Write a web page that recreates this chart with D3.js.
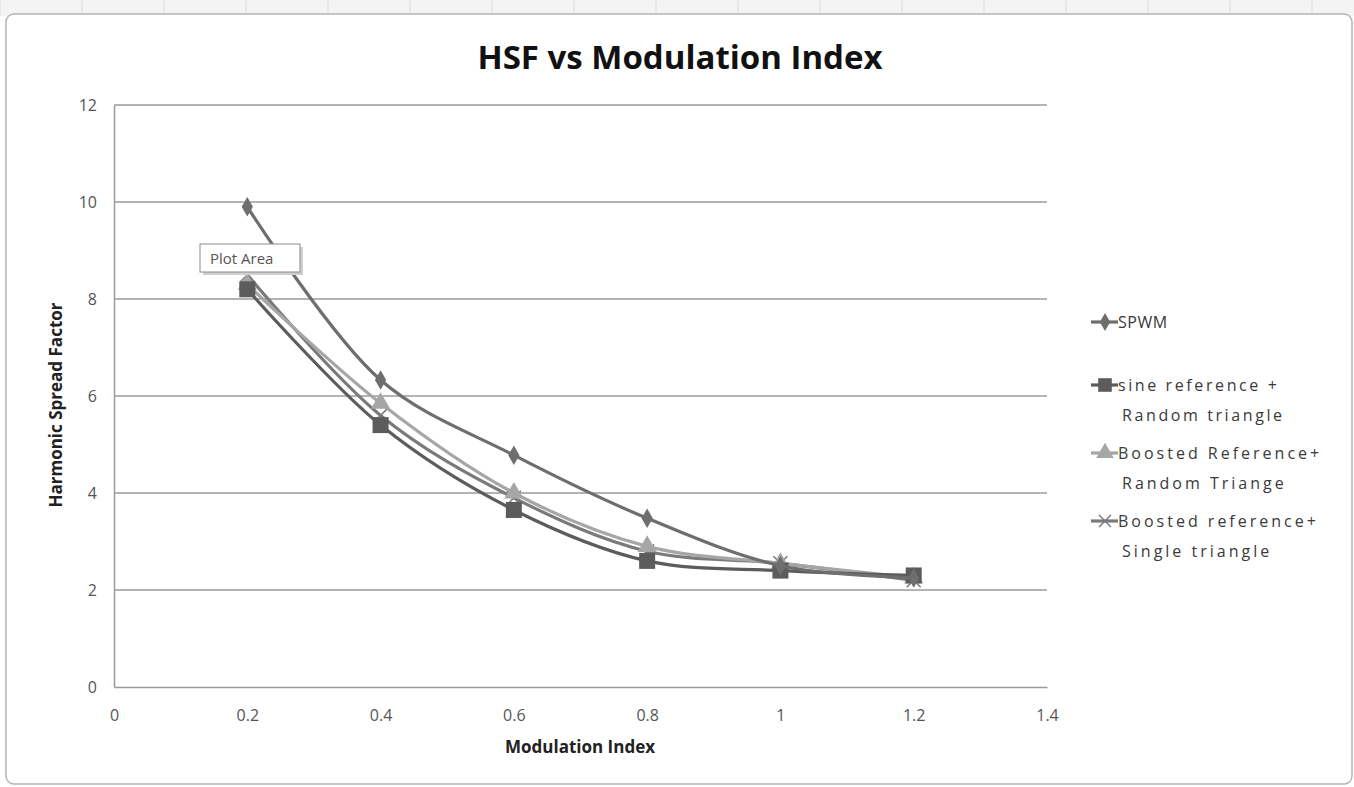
<!DOCTYPE html>
<html><head><meta charset="utf-8">
<script src="https://cdn.jsdelivr.net/npm/d3@7"></script>
<style>body{margin:0;background:#fff;} svg{display:block;}</style>
</head><body>
<svg id="c" width="1354" height="787"></svg>
<script>
const xValues = [0.2, 0.4, 0.6, 0.8, 1.0, 1.2];
const seriesNames = ["SPWM", "sine reference + Random triangle", "Boosted Reference+ Random Triange", "Boosted reference+ Single triangle"];
const spwm = [9.9, 6.33, 4.78, 3.48, 2.5, 2.25];
const sineRandom = [8.2, 5.4, 3.65, 2.6, 2.4, 2.3];
const boostedRandom = [8.3, 5.85, 4.0, 2.9, 2.55, 2.25];
const boostedSingle = [8.5, 5.6, 3.9, 2.8, 2.55, 2.2];
const xTicks = [0, 0.2, 0.4, 0.6, 0.8, 1, 1.2, 1.4];
const yTicks = [0, 2, 4, 6, 8, 10, 12];

const svg = d3.select("#c");
const W = 1354, H = 787;

svg.append("rect").attr("x",0).attr("y",0).attr("width",W).attr("height",H).attr("fill","#fff");
svg.append("rect").attr("x",0).attr("y",0).attr("width",W).attr("height",16).attr("fill","#f4f4f4");
d3.range(0, W, 82).forEach(x => svg.append("line").attr("x1",x).attr("x2",x).attr("y1",0).attr("y2",16).attr("stroke","#dcdcdc"));
svg.append("rect").attr("x",6).attr("y",14).attr("width",W-8).attr("height",H-17).attr("rx",8)
  .attr("fill","#fff").attr("stroke","#b4b4b4").attr("stroke-width",1.5);

const x = d3.scaleLinear().domain([0,1.4]).range([114,1047]);
const y = d3.scaleLinear().domain([0,12]).range([687,105]);

svg.append("g").selectAll("line").data(yTicks.filter(d=>d>0)).join("line")
  .attr("x1",x(0)).attr("x2",x(1.4)).attr("y1",d=>y(d)).attr("y2",d=>y(d))
  .attr("stroke","#9a9a9a").attr("stroke-width",1.5);

const yAxis = svg.append("g").attr("transform",`translate(${x(0)},0)`)
  .call(d3.axisLeft(y).tickValues(yTicks).tickSize(0).tickPadding(17).tickFormat(d3.format("d")));
yAxis.select(".domain").attr("stroke","#9a9a9a").attr("stroke-width",1.5);
yAxis.selectAll("text").attr("font-family","'Open Sans', sans-serif").attr("font-size",16).attr("fill","#555");

const xAxis = svg.append("g").attr("transform",`translate(0,${y(0)})`)
  .call(d3.axisBottom(x).tickValues(xTicks).tickSize(0).tickPadding(23).tickFormat(d=>d3.format("~g")(d)));
xAxis.select(".domain").attr("stroke","#9a9a9a").attr("stroke-width",1.5);
xAxis.selectAll("text").attr("font-family","'Open Sans', sans-serif").attr("font-size",16).attr("fill","#555");

svg.append("text").attr("x",680).attr("y",69).attr("text-anchor","middle")
  .attr("font-family","'Open Sans', sans-serif").attr("font-weight","bold").attr("font-size",33)
  .attr("fill","#111").text("HSF vs Modulation Index");
svg.append("text").attr("x",580).attr("y",753).attr("text-anchor","middle")
  .attr("font-family","'Open Sans', sans-serif").attr("font-weight","bold").attr("font-size",17)
  .attr("fill","#222").text("Modulation Index");
svg.append("text").attr("transform","translate(62,405) rotate(-90)").attr("text-anchor","middle")
  .attr("font-family","'Open Sans', sans-serif").attr("font-weight","bold").attr("font-size",17)
  .attr("fill","#222").text("Harmonic Spread Factor");

const series = [
  {name: seriesNames[0], values: spwm, color:"#6e6e6e", marker:"diamond"},
  {name: seriesNames[1], values: sineRandom, color:"#5c5c5c", marker:"square"},
  {name: seriesNames[2], values: boostedRandom, color:"#a6a6a6", marker:"triangle"},
  {name: seriesNames[3], values: boostedSingle, color:"#7a7a7a", marker:"x"},
];

const line = d3.line().x(d=>x(d[0])).y(d=>y(d[1])).curve(d3.curveCatmullRom.alpha(0.5));

function drawMarker(g, type, cx, cy, color, s=1){
  if(type==="diamond"){
    g.append("path").attr("d",d3.symbol(d3.symbolDiamond, 110*s)()).attr("transform",`translate(${cx},${cy})`).attr("fill",color);
  } else if(type==="square"){
    g.append("rect").attr("x",cx-8*s).attr("y",cy-8*s).attr("width",16*s).attr("height",16*s).attr("fill",color);
  } else if(type==="triangle"){
    g.append("path").attr("d",d3.symbol(d3.symbolTriangle, 160*s)()).attr("transform",`translate(${cx},${cy})`).attr("fill",color);
  } else if(type==="x"){
    const r=7*s;
    g.append("path").attr("d",`M${cx-r},${cy-r}L${cx+r},${cy+r}M${cx-r},${cy+r}L${cx+r},${cy-r}`).attr("stroke",color).attr("stroke-width",1.5).attr("fill","none");
  }
}

const drawOrder = [series[3], series[2], series[1], series[0]];
drawOrder.forEach(s=>{
  const pts = xValues.map((xv,i)=>[xv, s.values[i]]);
  svg.append("path").attr("d",line(pts)).attr("fill","none").attr("stroke",s.color).attr("stroke-width",3.2);
  const g = svg.append("g");
  pts.forEach(p=>drawMarker(g, s.marker, x(p[0]), y(p[1]), s.color));
});

const legendItems = [
  {s: series[0], lines:["SPWM"], y:322, ls:0.5},
  {s: series[1], lines:["sine reference +","Random triangle"], y:385, ls:2.6},
  {s: series[2], lines:["Boosted Reference+","Random Triange"], y:453, ls:3},
  {s: series[3], lines:["Boosted reference+","Single triangle"], y:521, ls:3},
];
const lg = svg.append("g");
legendItems.forEach(it=>{
  lg.append("line").attr("x1",1091).attr("x2",1118).attr("y1",it.y).attr("y2",it.y).attr("stroke",it.s.color).attr("stroke-width",3.2);
  drawMarker(lg, it.s.marker, 1105, it.y, it.s.color, 0.85);
  it.lines.forEach((t,j)=>{
    lg.append("text").attr("x",j===0?1118:1122).attr("y",it.y+6+j*30).attr("font-family","'Open Sans', sans-serif")
      .attr("font-size",16).attr("letter-spacing",it.ls).attr("fill","#3a3a3a").text(t);
  });
});

const tip = svg.append("g");
tip.append("rect").attr("x",203).attr("y",247).attr("width",100).attr("height",28).attr("fill","#d0d0d0");
tip.append("rect").attr("x",200).attr("y",244).attr("width",100).attr("height",28).attr("fill","#fff").attr("stroke","#8a8a8a").attr("stroke-width",1);
tip.append("text").attr("x",210).attr("y",264).attr("font-family","'Open Sans', sans-serif").attr("font-size",15).attr("fill","#555").text("Plot Area");
</script>
</body></html>
